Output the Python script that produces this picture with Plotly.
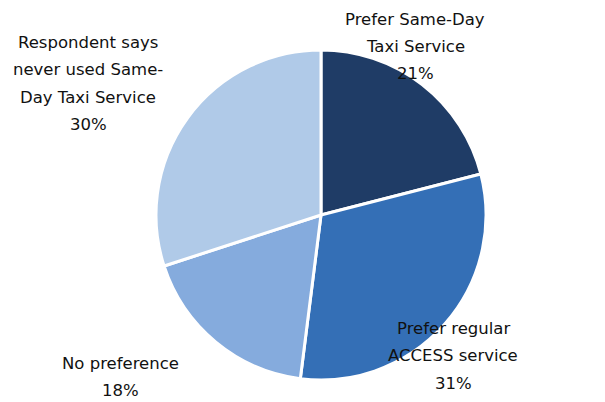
import plotly.graph_objects as go

categories = [
    "Prefer Same-Day Taxi Service",
    "Prefer regular ACCESS service",
    "No preference",
    "Respondent says never used Same-Day Taxi Service",
]
label_lines = [
    ["Prefer Same-Day", "Taxi Service"],
    ["Prefer regular", "ACCESS service"],
    ["No preference"],
    ["Respondent says", "never used Same-", "Day Taxi Service"],
]
shares = [21, 31, 18, 30]
colors = ["#1F3C66", "#346FB6", "#85ABDD", "#B0CAE8"]

# the page body adds an 8px margin, so the figure starts at (8, 8)
OFF = 8
W, H = 605 - OFF, 402 - OFF


def px(x):
    return (x - OFF) / W


def py(y):
    return 1 - (y - OFF) / H


fig = go.Figure(go.Pie(
    labels=categories,
    values=shares,
    sort=False,
    direction="clockwise",
    rotation=0,
    marker=dict(colors=colors, line=dict(color="white", width=3)),
    textinfo="none",
    hoverinfo="label+percent",
    domain=dict(x=[px(155), px(487)], y=[py(380), py(50)]),
    showlegend=False,
))

# label block centres (pixels) and line spacing
label_pos = [(415, 19), (453, 328), (120, 363), (88, 42)]
line_gap = 27.5

for lines, share, (cx, top) in zip(label_lines, shares, label_pos):
    for i, txt in enumerate(lines + [f"{share}%"]):
        y = top + i * line_gap
        fig.add_annotation(
            x=px(cx), y=py(y), xref="paper", yref="paper",
            text=txt, showarrow=False, xanchor="center", yanchor="middle",
            font=dict(family="DejaVu Sans", size=16.5, color="#111111"),
        )

fig.update_layout(
    width=W, height=H,
    margin=dict(l=0, r=0, t=0, b=0),
    paper_bgcolor="white",
    plot_bgcolor="white",
)

fig.write_html("out.html")
